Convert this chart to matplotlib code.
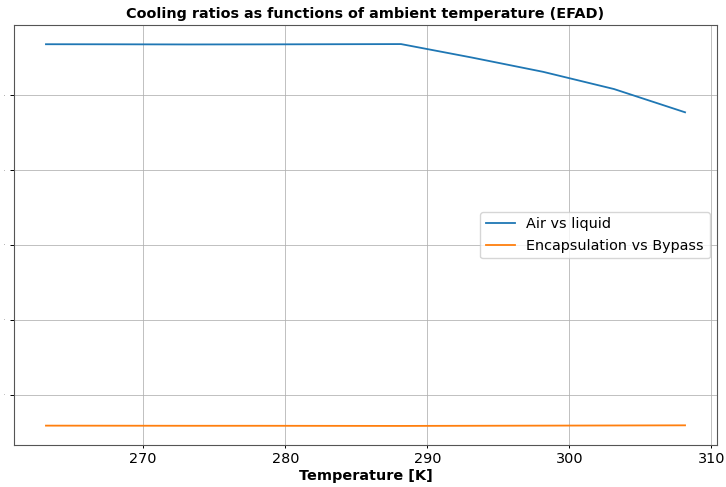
import matplotlib
matplotlib.use("Agg")
import matplotlib.pyplot as plt

temperature = [263.15, 268.15, 273.15, 278.15, 283.15, 288.15, 293.15, 298.15, 303.15, 308.15]
air_vs_liquid = [5.678, 5.677, 5.675, 5.676, 5.678, 5.680, 5.500, 5.310, 5.080, 4.770]
encap_vs_bypass = [0.590, 0.589, 0.588, 0.588, 0.587, 0.586, 0.588, 0.590, 0.592, 0.594]
y_ticks = [1, 2, 3, 4, 5]

fs = 10.4
fig, ax = plt.subplots(figsize=(7.26, 4.87), dpi=100)
ax.plot(temperature, air_vs_liquid, color="#1f77b4", lw=1.3, label="Air vs liquid")
ax.plot(temperature, encap_vs_bypass, color="#ff7f0e", lw=1.3, label="Encapsulation vs Bypass")
ax.set_yticks(y_ticks)
ax.tick_params(axis="y", labelsize=1, length=3, width=0.7)
ax.tick_params(axis="x", labelsize=fs, length=2.5, width=0.7, pad=2.5)
ax.grid(True, color="#b0b0b0", lw=0.7, alpha=0.8)
ax.set_xlabel("Temperature [K]", fontsize=fs, fontweight="bold", labelpad=2)
ax.set_title("Cooling ratios as functions of ambient temperature (EFAD)", fontsize=fs, fontweight="bold", pad=5)
ax.legend(loc="center right", fontsize=fs)
for s in ax.spines.values():
    s.set_color("#555555")
    s.set_linewidth(0.8)
fig.subplots_adjust(left=0.0193, right=0.9876, top=0.9487, bottom=0.0862)
fig.savefig("out.png", dpi=100)
